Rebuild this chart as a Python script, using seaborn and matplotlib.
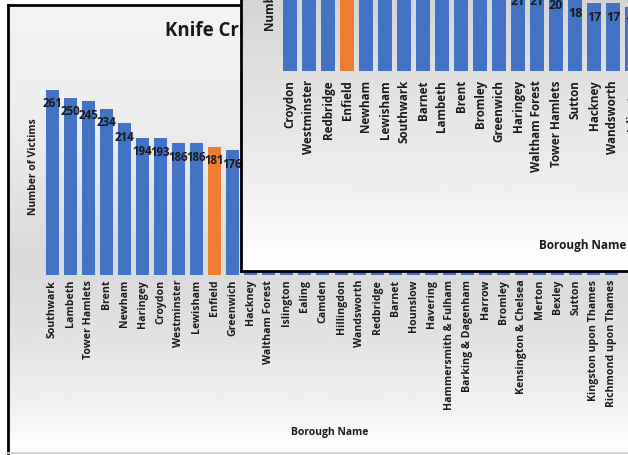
import numpy as np
import pandas as pd
import matplotlib
matplotlib.use("Agg")
import matplotlib.pyplot as plt
import seaborn as sns

# main chart: victims per borough (bars from Hackney on are hidden behind the inset, estimated)
boroughs = ["Southwark", "Lambeth", "Tower Hamlets", "Brent", "Newham", "Haringey",
            "Croydon", "Westminster", "Lewisham", "Enfield", "Greenwich", "Hackney",
            "Waltham Forest", "Islington", "Ealing", "Camden", "Hillingdon", "Wandsworth",
            "Redbridge", "Barnet", "Hounslow", "Havering", "Hammersmith & Fulham",
            "Barking & Dagenham", "Harrow", "Bromley", "Kensington & Chelsea", "Merton",
            "Bexley", "Sutton", "Kingston upon Thames", "Richmond upon Thames"]
victims = [261, 250, 245, 234, 214, 194, 193, 186, 186, 181, 176, 170,
           165, 158, 150, 145, 138, 132, 128, 122, 118, 110, 104,
           100, 92, 88, 80, 72, 66, 58, 45, 38]

# inset chart (top values cut off by the screenshot, estimated)
inset_boroughs = ["Croydon", "Westminster", "Redbridge", "Enfield", "Newham", "Lewisham",
                  "Southwark", "Barnet", "Lambeth", "Brent", "Bromley", "Greenwich",
                  "Haringey", "Waltham Forest", "Tower Hamlets", "Sutton", "Hackney",
                  "Wandsworth", "Islington"]
inset_values = [36, 33, 30, 28, 27, 26, 25, 24, 24, 23, 22, 22,
                21, 21, 20, 18, 17, 17, 16]

highlight = "Enfield"
BLUE = "#4472C4"
ORANGE = "#ED7D31"
TXT = "#1a1a1a"

sns.set_theme(style="white")
plt.rcParams['font.family'] = ['Open Sans', 'DejaVu Sans']

W, H = 628, 455
fig = plt.figure(figsize=(W / 100, H / 100), dpi=100)
fig.patch.set_facecolor("white")


def px_axes(x0, y0, x1, y1, z):
    a = fig.add_axes([x0 / W, 1 - y1 / H, (x1 - x0) / W, (y1 - y0) / H])
    a.set_zorder(z)
    return a


def ptext(a, x, y, s, **kw):
    return a.text(x / W, 1 - y / H, s, transform=fig.transFigure, **kw)


def gradient(a, top, bottom, stops):
    ys = np.linspace(top, bottom, 300)
    pos = [p for p, _ in stops]
    vals = [v for _, v in stops]
    g = np.interp(ys, pos, vals)
    img = np.repeat(g[:, None], 2, axis=1)
    a.imshow(img, cmap="gray", vmin=0, vmax=1, aspect="auto",
             extent=[0, 1, bottom, top], origin="upper")
    a.set_xlim(0, 1)
    a.set_ylim(bottom, top)
    a.set_xticks([])
    a.set_yticks([])


# ---- main chart frame ----
frame = px_axes(8, 5, 700, 453, 0)
gradient(frame, 5, 453, [(5, 0.95), (120, 0.93), (260, 0.85), (330, 0.88),
                         (400, 0.94), (453, 0.995)])
for s in ["left", "top"]:
    frame.spines[s].set_color("black")
    frame.spines[s].set_linewidth(2)
frame.spines["bottom"].set_color("#d0d0d0")
frame.spines["right"].set_visible(False)

ptext(frame, 165, 31, "Knife Crime Victims by London Borough", fontsize=13.4,
      fontweight="bold", color=TXT, ha="left", va="center")
ptext(frame, 34, 167, "Number of Victims", fontsize=7.5, fontweight="bold",
      color=TXT, rotation=90, ha="center", va="center")
ptext(frame, 330, 432, "Borough Name", fontsize=7.5, fontweight="bold",
      color=TXT, ha="center", va="center")

# ---- main bars ----
ax = px_axes(43, 62.4, 621, 275, 1)
df = pd.DataFrame({"Borough": boroughs, "Victims": victims})
pal = {b: (ORANGE if b == highlight else BLUE) for b in boroughs}
sns.barplot(data=df, x="Borough", y="Victims", hue="Borough", palette=pal,
            legend=False, width=0.72, ax=ax, saturation=1, linewidth=0)
ax.set_ylim(0, 300)
ax.set_xlim(-0.5, len(boroughs) - 0.5)
ax.set_facecolor("none")
ax.set_yticks([])
ax.set_xlabel("")
ax.set_ylabel("")
sns.despine(ax=ax, left=True, bottom=True)
ax.tick_params(axis="x", length=0, pad=3.5, labelsize=7.6, colors=TXT)
for lab in ax.get_xticklabels():
    lab.set_rotation(90)
    lab.set_fontweight("bold")
# labels of the bars that sit behind the inset window are not visible
for i, v in enumerate(victims[:11]):
    ax.text(i, v - 19.5, str(v), ha="center", va="center", fontsize=8.3,
            fontweight="bold", color=TXT)

# ---- inset window ----
inframe = px_axes(241, -50, 700, 271, 2)
inframe.set_facecolor("white")
gradient(inframe, -50, 271, [(-50, 0.80), (60, 0.87), (180, 0.93), (255, 0.99), (271, 1.0)])
for s in ["left", "bottom"]:
    inframe.spines[s].set_color("black")
    inframe.spines[s].set_linewidth(2)
ptext(inframe, 270, 31, "Number of Fatalities", fontsize=8.5, fontweight="bold",
      color=TXT, rotation=90, ha="center", va="bottom")
ptext(inframe, 583, 245, "Borough Name", fontsize=8.5, fontweight="bold",
      color=TXT, ha="center", va="center")

axi = px_axes(280.5, -89, 280.5 + 19 * len(inset_boroughs), 71, 3)
dfi = pd.DataFrame({"Borough": inset_boroughs, "Value": inset_values})
pali = {b: (ORANGE if b == highlight else BLUE) for b in inset_boroughs}
sns.barplot(data=dfi, x="Borough", y="Value", hue="Borough", palette=pali,
            legend=False, width=0.72, ax=axi, saturation=1, linewidth=0)
axi.set_ylim(0, 40)
axi.set_xlim(-0.5, len(inset_boroughs) - 0.5)
axi.set_facecolor("none")
axi.set_yticks([])
axi.set_xlabel("")
axi.set_ylabel("")
sns.despine(ax=axi, left=True, bottom=True)
axi.tick_params(axis="x", length=0, pad=6.5, labelsize=8.4, colors=TXT)
for lab in axi.get_xticklabels():
    lab.set_rotation(90)
    lab.set_fontweight("bold")
# only the labels that fall inside the screenshot (the taller bars run off the top)
for i, v in enumerate(inset_values):
    if v <= 21:
        axi.text(i, v - 3.7, str(v), ha="center", va="center", fontsize=9,
                 fontweight="bold", color=TXT)

fig.savefig("out.png", dpi=100)
